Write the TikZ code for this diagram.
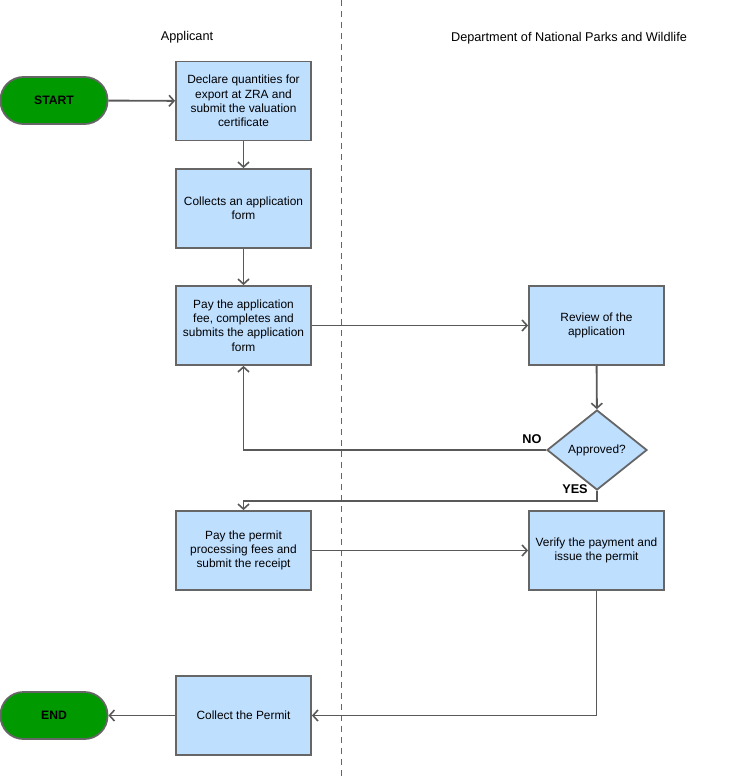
\documentclass[tikz,border=0pt]{standalone}
\usepackage{fontspec}
\setmainfont{Liberation Sans}
\usetikzlibrary{arrows.meta,shapes.geometric}
\definecolor{boxfill}{HTML}{BFDFFF}
\definecolor{startfill}{HTML}{009900}
\definecolor{edge}{HTML}{666666}
\definecolor{wire}{HTML}{595959}
\begin{document}
\begin{tikzpicture}[x=1pt,y=-1pt,
  every node/.style={font=\fontsize{12.7}{14.4}\selectfont},
  procbox/.style={draw=edge,line width=1.8pt,fill=boxfill,minimum width=135pt,minimum height=79pt,align=center,inner sep=0pt,font=\fontsize{11.9}{14.3}\selectfont},
  termbox/.style={draw=edge,line width=1.8pt,fill=startfill,rounded corners=23pt,minimum width=107pt,minimum height=47pt,font=\fontsize{12.2}{14.3}\selectfont\bfseries},
  decbox/.style={draw=edge,line width=1.8pt,fill=boxfill,diamond,aspect=1.25,minimum width=100pt,minimum height=80pt,inner sep=0pt,font=\fontsize{11.9}{14.3}\selectfont},
  conn/.style={draw=wire,line width=1.9pt,-{Straight Barb[length=5pt,width=11pt,line width=1.6pt]}},
  lbl/.style={font=\fontsize{12.7}{14.4}\selectfont\bfseries}]
\useasboundingbox (0,0) rectangle (732,779);
\draw[edge,line width=1pt,dash pattern=on 6pt off 5pt] (341,0) -- (341,779);
\node (lane1) at (187,37) {Applicant};
\node (lane2) at (569,38) {Department of National Parks and Wildlife};
\node[termbox] (start) at (54,100.5) {START};
\node[procbox] (b1) at (243.5,101) {Declare quantities for\\export at ZRA and\\submit the valuation\\certificate};
\node[procbox] (b2) at (243.5,208.5) {Collects an application\\form};
\node[procbox] (b3) at (243.5,325.5) {Pay the application\\fee, completes and\\submits the application\\form};
\node[procbox] (b4) at (596.5,325.5) {Review of the\\application};
\node[decbox] (d) at (597,450) {Approved?};
\node[procbox] (b5) at (243.5,550.5) {Pay the permit\\processing fees and\\submit the receipt};
\node[procbox] (b6) at (596.5,550.5) {Verify the payment and\\issue the permit};
\node[procbox] (b7) at (243.5,715.5) {Collect the Permit};
\node[termbox] (end) at (54,715.5) {END};
\node[lbl] (no) at (532,439) {NO};
\node[lbl] (yes) at (575,489) {YES};
\draw[conn] (start) -- (b1);
\draw[conn] (b1) -- (b2);
\draw[conn] (b2) -- (b3);
\draw[conn] (b3) -- (b4);
\draw[conn] (b4) -- (d);
\draw[conn] (d.west) -| (b3.south);
\draw[conn] (d.south) -- ++(0,10) -| (b5.north);
\draw[conn] (b5) -- (b6);
\draw[conn] (b6.south) |- (b7.east);
\draw[conn] (b7) -- (end);
\end{tikzpicture}
\end{document}
